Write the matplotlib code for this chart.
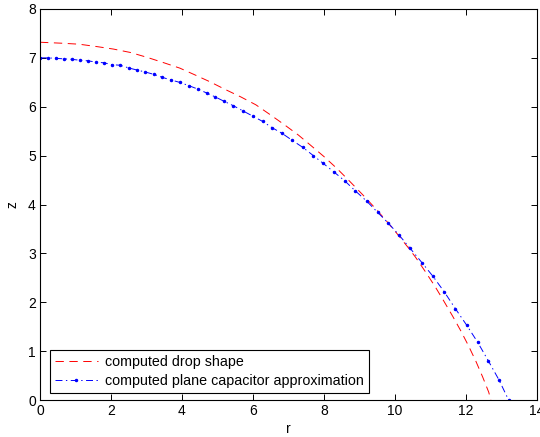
import matplotlib
matplotlib.use("Agg")
import matplotlib.pyplot as plt

plt.rcParams['font.family'] = ['Liberation Sans', 'DejaVu Sans']
plt.rcParams['lines.scale_dashes'] = False

# computed drop shape (red dashed)
drop_r = [0, 0.61, 1.10, 1.61, 2.07, 2.55, 3.02, 3.49, 3.94, 4.37, 4.79, 5.20,
          5.66, 6.08, 6.46, 6.85, 7.28, 7.61, 8.00, 8.36, 8.69, 9.09, 9.41,
          9.74, 10.05, 10.37, 10.58, 10.87, 11.13, 11.37, 11.62, 11.85, 12.07,
          12.28, 12.47, 12.64, 12.70]
drop_z = [7.32, 7.30, 7.28, 7.23, 7.18, 7.11, 7.01, 6.90, 6.79, 6.65, 6.51, 6.36,
          6.20, 6.04, 5.85, 5.65, 5.42, 5.22, 4.98, 4.74, 4.50, 4.20, 3.95,
          3.68, 3.41, 3.12, 2.92, 2.61, 2.32, 2.03, 1.72, 1.42, 1.11,
          0.79, 0.47, 0.16, 0.0]

# plane capacitor approximation (blue dash-dot with dots)
cap_r = [0, 0.23, 0.45, 0.68, 0.90, 1.14, 1.36, 1.59, 1.80, 2.03, 2.25, 2.52,
         2.74, 2.97, 3.22, 3.45, 3.68, 3.93, 4.20, 4.45, 4.70, 4.94, 5.19, 5.45,
         5.73, 5.99, 6.27, 6.54, 6.81, 7.11, 7.40, 7.70, 7.98, 8.29, 8.59, 8.88,
         9.20, 9.51, 9.81, 10.12, 10.43, 10.76, 11.07, 11.39, 11.70, 12.02,
         12.33, 12.63, 12.93, 13.20]
cap_z = [7.00, 7.00, 6.99, 6.98, 6.97, 6.95, 6.94, 6.91, 6.90, 6.86, 6.85, 6.79,
         6.75, 6.71, 6.66, 6.60, 6.55, 6.50, 6.43, 6.36, 6.28, 6.20, 6.11, 6.02,
         5.91, 5.81, 5.70, 5.57, 5.46, 5.31, 5.17, 5.00, 4.84, 4.66, 4.48, 4.28,
         4.07, 3.84, 3.62, 3.37, 3.10, 2.81, 2.53, 2.21, 1.87, 1.53,
         1.18, 0.80, 0.41, 0.00]

x_ticks = [0, 2, 4, 6, 8, 10, 12, 14]
y_ticks = [0, 1, 2, 3, 4, 5, 6, 7, 8]

fig = plt.figure(figsize=(5.4, 4.37), dpi=100)
ax = fig.add_axes([40 / 540, 37 / 437, 497 / 540, 391 / 437])

ax.plot(drop_r, drop_z, color='red', lw=0.7, linestyle=(0, (6, 4)),
        label='computed drop shape')
ax.plot(cap_r, cap_z, color='blue', lw=0.7, linestyle=(0, (5, 2.5, 1, 2.5)),
        marker='.', markersize=3, label='computed plane capacitor approximation')

ax.set_xlim(0, 14)
ax.set_ylim(0, 8)
ax.set_xticks(x_ticks)
ax.set_yticks(y_ticks)
ax.tick_params(direction='in', length=4, width=0.7, top=True, right=True,
               labelsize=10, pad=3)
for s in ax.spines.values():
    s.set_linewidth(0.8)
ax.set_xlabel('r', fontsize=10, labelpad=3)
ax.set_ylabel('z', fontsize=10, labelpad=6)

leg = ax.legend(loc='lower left', bbox_to_anchor=(0.02, 0.018), borderaxespad=0,
                fontsize=10.3, handlelength=3, labelspacing=0.35, fancybox=False,
                framealpha=1, edgecolor='black', borderpad=0.35, handletextpad=0.5)
leg.get_frame().set_linewidth(0.8)

fig.savefig('out.png', dpi=100)
